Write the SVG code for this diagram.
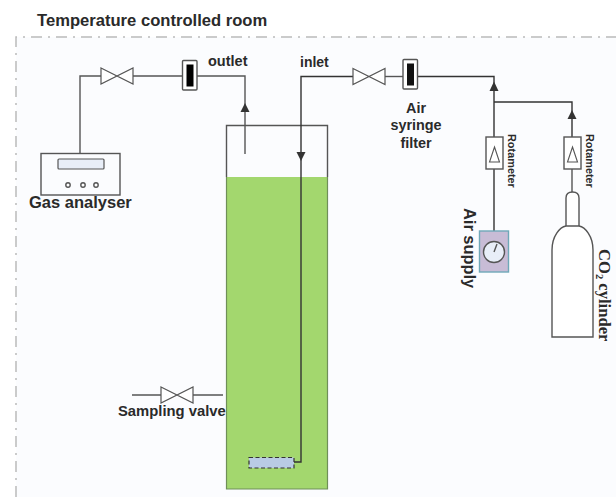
<svg xmlns="http://www.w3.org/2000/svg" width="616" height="497" viewBox="0 0 616 497">
<defs>
<style>
.l{fill:none;stroke:#555;stroke-width:1.4}
.d{fill:none;stroke:#333;stroke-width:1.4}
.b{fill:#fff;stroke:#555;stroke-width:1.4}
.t{font-family:"Liberation Sans",Arial,sans-serif;font-weight:bold;fill:#2a2a2a}
</style>
<g id="valve"><path d="M0 -8L32 8V-8L0 8Z" fill="#fff" stroke="#555" stroke-width="1.2"/></g>
<g id="rota"><rect x="-8.500" y="0" width="17" height="32" fill="#fff" stroke="#555" stroke-width="1.400"/><path d="M0 10L5 25H-5Z" fill="#fff" stroke="#555" stroke-width="1.100"/></g>
</defs>
<rect width="616" height="497" fill="#fff"/>
<path d="M16 497V37H616V497" fill="#fbfcfe"/>
<path d="M16 497V37H616" fill="none" stroke="#bbb" stroke-width="1.500" stroke-dasharray="11 6 2 6"/>
<text class="t" x="37" y="26" font-size="16.600">Temperature controlled room</text>
<g id="tank">
<rect x="226.500" y="177" width="101" height="312" fill="#a3d76e"/>
<path d="M226.500 177V489H327.500V177" fill="none" stroke="#6f8f58" stroke-width="1.200"/>
<path d="M226.500 177V125.500H327.500V177" class="l"/>
</g>
<g id="connectors">
<path class="l" d="M80 153V76H101"/>
<path class="l" d="M133 76H182"/>
<path class="l" d="M197 76H245V154"/>
<path d="M240.500 112L245 103L249.500 112Z" fill="#333"/>
<path class="d" d="M353 76.500H301V462H294"/>
<path d="M296.500 152L301 161L305.500 152Z" fill="#333"/>
<path class="l" d="M385 76.500H403"/>
<path class="d" d="M417 76.500H494V137"/>
<path d="M489.500 91L494 81.500L498.500 91Z" fill="#333"/>
<path class="d" d="M494 102H572V137"/>
<path d="M567.500 119L572 110L576.500 119Z" fill="#333"/>
<path class="d" d="M494 169V231"/>
<path class="l" d="M572 169V192"/>
<path class="l" d="M132 395H161M193 395H223"/>
</g>
<g id="gas-analyser">
<rect x="41" y="153.500" width="79" height="41.500" fill="none" stroke="#555" stroke-width="1.400"/>
<rect x="58" y="159" width="46" height="10" rx="1" fill="#e8eef8" stroke="#555" stroke-width="1.200"/>
<circle cx="68" cy="185" r="2.200" class="b"/><circle cx="83" cy="185" r="2.200" class="b"/><circle cx="96" cy="185" r="2.200" class="b"/>
<text class="t" x="29" y="208" font-size="16.500">Gas analyser</text>
</g>
<use id="valve-outlet" href="#valve" x="101" y="76"/>
<g id="filter-outlet"><rect x="182.500" y="60.500" width="14.500" height="29.500" rx="1" class="b"/><rect x="186.500" y="64.500" width="7" height="22" fill="#000"/></g>
<text class="t" x="208" y="66" font-size="14.500">outlet</text>
<text class="t" x="300" y="67" font-size="14">inlet</text>
<use id="valve-inlet" href="#valve" x="353" y="76.500"/>
<g id="filter-inlet"><rect x="403" y="59.500" width="14.500" height="29.500" rx="1" class="b"/><rect x="407" y="63.500" width="7" height="22" fill="#111"/></g>
<g id="filter-label" class="t" font-size="14.400" text-anchor="middle"><text x="416" y="113">Air</text><text x="416" y="130">syringe</text><text x="416" y="148">filter</text></g>
<use id="rotameter-1" href="#rota" x="494.500" y="137"/>
<use id="rotameter-2" href="#rota" x="572.500" y="137"/>
<text class="t" font-size="10.900" transform="translate(508 134) rotate(90)">Rotameter</text>
<text class="t" font-size="10.900" transform="translate(586 134) rotate(90)">Rotameter</text>
<g id="air-supply">
<rect x="479.500" y="231" width="29" height="41" fill="#c8bcd6" stroke="#6fa8b8" stroke-width="1.400"/>
<circle cx="494" cy="252" r="10.500" fill="#e8eef8" stroke="#555" stroke-width="1.400"/>
<path d="M494 252L497 244" class="l"/>
<text class="t" font-size="16.400" transform="translate(464 208) rotate(90)">Air supply</text>
</g>
<g id="co2-cylinder">
<path class="b" d="M566 226V198Q566 192 572.500 192Q579 192 579 198V226"/>
<path class="b" d="M552 337V250C552 236 560 227 566 226H579C585 227 593 236 593 250V337Z"/>
<text font-family="'Liberation Serif','Times New Roman',serif" font-weight="bold" fill="#2a2a2a" font-size="16.600" transform="translate(598.500 249) rotate(90)">CO<tspan font-size="10.500" dy="3">2</tspan><tspan dy="-3"> cylinder</tspan></text>
</g>
<g id="sampling-valve">
<use href="#valve" x="161" y="395"/>
<text class="t" x="118" y="416" font-size="14.800">Sampling valve</text>
</g>
<g id="diffuser"><rect x="249" y="457.500" width="45" height="10.500" fill="#b9cbe4" stroke="#333" stroke-width="1.200" stroke-dasharray="4 2.500"/></g>
</svg>
